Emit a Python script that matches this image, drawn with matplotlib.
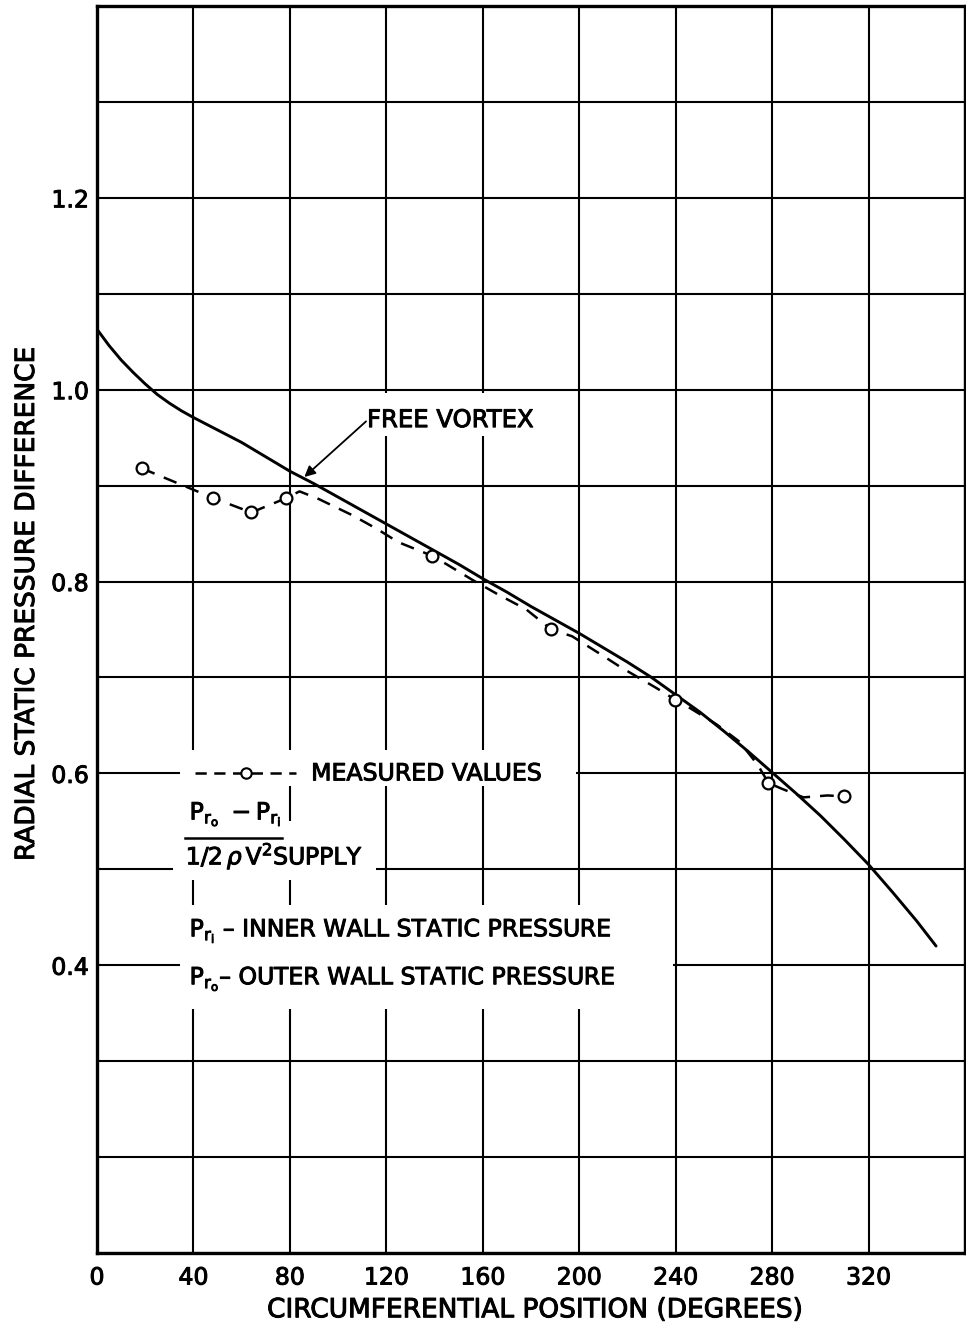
import matplotlib
matplotlib.use("Agg")
import matplotlib.pyplot as plt
import matplotlib.patheffects as pe
from matplotlib.patches import Rectangle

# ---- data -------------------------------------------------------------
# free-vortex prediction (circumferential position in degrees, pressure coefficient)
vortex_deg = [0, 5, 10, 15, 20, 25, 30, 35, 40, 50, 60, 70, 80, 90, 100, 110,
              120, 130, 140, 150, 160, 170, 180, 190, 200, 210, 220, 230, 240,
              250, 260, 270, 280, 290, 300, 310, 320, 330, 340, 348]
vortex_val = [1.063, 1.046, 1.031, 1.018, 1.006, 0.995, 0.986, 0.978, 0.971,
              0.958, 0.945, 0.930, 0.915, 0.902, 0.888, 0.874, 0.860, 0.846,
              0.832, 0.818, 0.803, 0.789, 0.774, 0.760, 0.746, 0.731, 0.716,
              0.700, 0.682, 0.664, 0.644, 0.623, 0.601, 0.579, 0.556, 0.531,
              0.505, 0.476, 0.446, 0.420]

# measured values (circles)
measured_deg = [18.6, 48.3, 64, 78.5, 138.8, 188.4, 239.7, 278.5, 310]
measured_val = [0.918, 0.887, 0.872, 0.887, 0.827, 0.750, 0.677, 0.590, 0.576]

# faired dashed curve through the measured values
faired_deg = [18.6, 48.3, 64, 78.5, 84, 92, 106, 116, 125, 138.8, 145, 155.5,
              166, 178, 188.4, 197, 209, 217, 232, 239.7, 246, 257, 266.5, 274,
              278.5, 284, 293, 303, 310]
faired_val = [0.918, 0.887, 0.872, 0.887, 0.894, 0.886, 0.869, 0.855, 0.841,
              0.827, 0.818, 0.802, 0.787, 0.771, 0.750, 0.743, 0.724, 0.711,
              0.689, 0.677, 0.668, 0.651, 0.633, 0.609, 0.590, 0.584, 0.575,
              0.577, 0.576]

x_ticks = list(range(0, 361, 40))
x_tick_labels = ["0", "40", "80", "120", "160", "200", "240", "280", "320", ""]
y_ticks = [round(0.1 * i, 1) for i in range(1, 15)]
y_labelled = {1.2: "1.2", 1.0: "1.0", 0.8: "0.8", 0.6: "0.6", 0.4: "0.4"}

# ---- figure -----------------------------------------------------------
plt.rcParams["font.family"] = ["DejaVu Sans"]
plt.rcParams["mathtext.fontset"] = "dejavusans"

# hand-lettered look: give the glyphs a slightly heavier stroke
heavy = [pe.withStroke(linewidth=0.7, foreground="black")]

fig = plt.figure(figsize=(9.66, 13.26), dpi=100)
ax = fig.add_axes([97 / 966, 73 / 1326, 868 / 966, 1247 / 1326])
ax.set_xlim(0, 360)
ax.set_ylim(0.1, 1.4)

ax.set_xticks(x_ticks)
ax.set_xticklabels(x_tick_labels)
ax.set_yticks(y_ticks)
ax.set_yticklabels([y_labelled.get(v, "") for v in y_ticks])
ax.tick_params(axis="both", length=0, labelsize=17)
ax.tick_params(axis="x", pad=9)
ax.tick_params(axis="y", pad=6)
for lab in ax.get_xticklabels() + ax.get_yticklabels():
    lab.set_path_effects(heavy)

ax.set_axisbelow(True)
ax.grid(True, color="black", lw=1.5)
for s in ax.spines.values():
    s.set_linewidth(2.4)

# white panels behind the annotation text (they break the grid lines)
panels = [
    (34.3, 0.587, 198.8, 0.624),   # measured-values key
    (31.4, 0.550, 78.5, 0.588),    # numerator
    (31.4, 0.489, 115.7, 0.550),   # denominator
    (34.3, 0.354, 238.8, 0.463),   # wall pressure definitions
    (109.5, 0.952, 189.5, 0.997),  # free vortex label
]
for x0, y0, x1, y1 in panels:
    ax.add_patch(Rectangle((x0, y0), x1 - x0, y1 - y0, facecolor="white",
                           edgecolor="none", zorder=1))

# ---- curves -----------------------------------------------------------
ax.plot(vortex_deg, vortex_val, color="black", lw=2.1, zorder=3,
        solid_capstyle="round", solid_joinstyle="round")
ax.plot(faired_deg, faired_val, color="black", lw=1.8,
        linestyle=(0, (5.5, 4)), zorder=3)
ax.plot(measured_deg, measured_val, linestyle="none", marker="o",
        markersize=8.5, markerfacecolor="white", markeredgecolor="black",
        markeredgewidth=1.6, zorder=4)

# ---- annotations ------------------------------------------------------
txt = dict(color="black", zorder=5, path_effects=heavy)
note_size = 17

# key for the measured values
ax.plot([40.5, 61.6, 82.6], [0.6, 0.6, 0.6], color="black", lw=1.8,
        linestyle=(0, (4.5, 3)), marker="o", markevery=[1], markersize=7.5,
        markerfacecolor="white", markeredgecolor="black", markeredgewidth=1.5,
        zorder=4)
ax.text(88.8, 0.6, "MEASURED VALUES", fontsize=note_size, va="center",
        ha="left", **txt)

# ordinate definition
ax.text(38.4, 0.552, r"$\mathrm{P_{r_o}\ -P_{r_i}}$", fontsize=note_size,
        va="baseline", ha="left", **txt)
ax.plot([36.4, 76.9], [0.533, 0.533], color="black", lw=1.8, zorder=5)
ax.text(36.8, 0.505, r"$\mathrm{1/2}\,\rho\,\mathrm{V^2}$SUPPLY",
        fontsize=note_size, va="baseline", ha="left", **txt)

ax.text(38.4, 0.430, r"$\mathrm{P_{r_i}}$ – INNER WALL STATIC PRESSURE",
        fontsize=note_size, va="baseline", ha="left", **txt)
ax.text(38.4, 0.380, r"$\mathrm{P_{r_o}}$– OUTER WALL STATIC PRESSURE",
        fontsize=note_size, va="baseline", ha="left", **txt)

# free vortex label with leader arrow
ax.text(112, 0.961, "FREE VORTEX", fontsize=17.5, va="baseline", ha="left",
        **txt)
ax.annotate("", xy=(86, 0.909), xytext=(111.6, 0.967),
            arrowprops=dict(arrowstyle="-|>", color="black", lw=1.3,
                            mutation_scale=16, shrinkA=0, shrinkB=0),
            zorder=5)

# axis titles
ax.set_xlabel("CIRCUMFERENTIAL POSITION (DEGREES)", fontsize=19)
ax.xaxis.set_label_coords(0.5046, -0.0355)
ax.xaxis.label.set_va("top")
ax.xaxis.label.set_path_effects(heavy)
ax.set_ylabel("RADIAL STATIC PRESSURE DIFFERENCE", fontsize=19)
ax.yaxis.set_label_coords(-0.0657, 0.5205)
ax.yaxis.label.set_path_effects(heavy)

fig.savefig("out.png", dpi=100, facecolor="white")
